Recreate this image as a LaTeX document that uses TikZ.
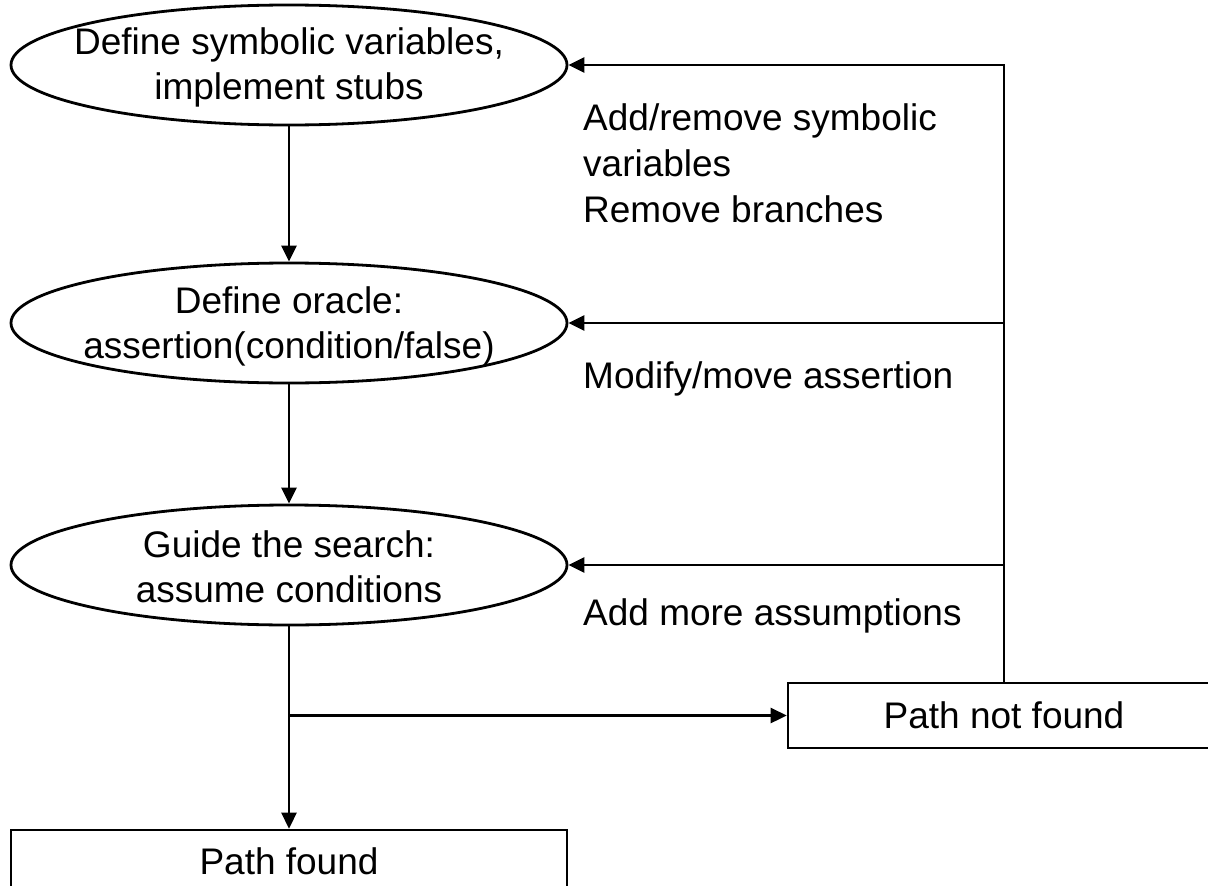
\documentclass[tikz,border=0pt]{standalone}
\usepackage{fontspec}
\setmainfont{Liberation Sans}
\usetikzlibrary{shapes.geometric,arrows.meta}
\begin{document}
\begin{tikzpicture}[x=1pt,y=-1pt,
  oval/.style={ellipse,draw,line width=2.8pt,minimum width=556pt,minimum height=120pt,inner sep=0pt},
  boxnode/.style={rectangle,draw,line width=2.6pt,minimum width=556pt,minimum height=62pt,inner sep=0pt,
                  font=\fontsize{37}{44}\selectfont},
  lbl/.style={align=center,inner sep=0pt,font=\fontsize{37}{45}\selectfont},
  note/.style={align=left,inner sep=0pt,font=\fontsize{37}{46}\selectfont},
  wire/.style={line width=2.6pt},
  link/.style={wire,-{Triangle[length=16pt,width=15pt]}}]
  \useasboundingbox (0,0) rectangle (1208,886);
  \clip (0,0) rectangle (1208,886);

  % workflow steps
  \node[oval] (def) at (289,65) {};
  \node[lbl] (deftext) at (289,67) {Define symbolic variables,\\implement stubs};
  \node[oval] (orc) at (289,323) {};
  \node[lbl] (orctext) at (289,326) {Define oracle:\\assertion(condition/false)};
  \node[oval] (gui) at (289,565) {};
  \node[lbl] (guitext) at (289,567) {Guide the search:\\assume conditions};

  % outcomes
  \node[boxnode,minimum width=432pt,minimum height=65pt] (nf) at (1004,715.5) {Path not found};
  \node[boxnode] (pf) at (289,861) {Path found};

  % main flow
  \draw[link] (def) -- (orc);
  \draw[link] (orc) -- (gui);
  \draw[link] (gui) -- (pf);
  \coordinate (split) at (gui.south |- nf.west);
  \draw[link] (split) -- (nf.west);

  % feedback loop from a failed search
  \coordinate (loopTop) at (nf.north |- def.east);
  \coordinate (loopMid) at (nf.north |- orc.east);
  \coordinate (loopLow) at (nf.north |- gui.east);
  \draw[link] (nf.north) -- (loopTop) -- (def.east);
  \draw[link] (loopMid) -- (orc.east);
  \draw[link] (loopLow) -- (gui.east);

  % refinement notes
  \node[note,anchor=north west] (n1) at (583,103) {Add/remove symbolic\\variables\\Remove branches};
  \node[note,anchor=base west] (n2) at (583,388) {Modify/move assertion};
  \node[note,anchor=base west] (n3) at (583,625) {Add more assumptions};
\end{tikzpicture}
\end{document}
